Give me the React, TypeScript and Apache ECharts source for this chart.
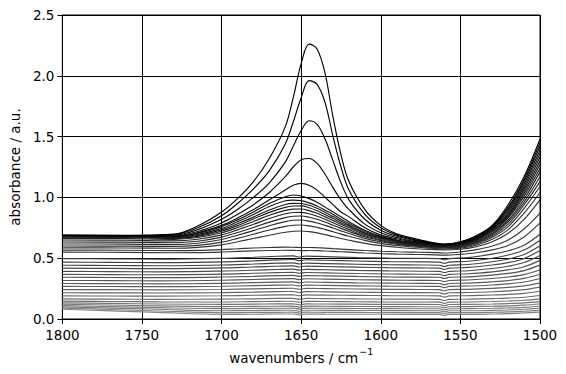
import React, { useEffect, useRef } from "react";
import * as echarts from "echarts";

// wavenumber sample positions (cm^-1)
const X_TOP = [1800, 1760, 1730, 1715, 1700, 1690, 1680, 1670, 1660, 1655, 1650, 1645, 1640, 1635, 1630, 1625, 1620, 1610, 1600, 1590, 1580, 1570, 1560, 1550, 1540, 1530, 1520, 1510, 1500];
const X_LOW = [1800, 1770, 1740, 1700, 1680, 1665, 1655, 1651, 1647, 1635, 1615, 1595, 1575, 1563, 1560, 1557, 1545, 1530, 1520, 1510, 1500];

// upper (dark) spectra, read at X_TOP
const T0 = [0.69, 0.688, 0.698, 0.765, 0.88, 0.99, 1.13, 1.32, 1.58, 1.82, 2.10, 2.26, 2.22, 2.02, 1.66, 1.35, 1.13, 0.90, 0.77, 0.70, 0.665, 0.635, 0.617, 0.635, 0.685, 0.77, 0.94, 1.17, 1.48];
const T1 = [0.689, 0.687, 0.694, 0.75, 0.85, 0.95, 1.07, 1.22, 1.44, 1.62, 1.82, 1.96, 1.93, 1.78, 1.50, 1.25, 1.06, 0.86, 0.75, 0.69, 0.655, 0.63, 0.614, 0.632, 0.68, 0.765, 0.92, 1.15, 1.45];
const T2 = [0.688, 0.686, 0.689, 0.735, 0.82, 0.9, 1.0, 1.12, 1.29, 1.42, 1.55, 1.63, 1.60, 1.48, 1.30, 1.12, 0.98, 0.82, 0.73, 0.68, 0.65, 0.625, 0.612, 0.628, 0.675, 0.76, 0.905, 1.13, 1.42];
const T3 = [0.687, 0.685, 0.684, 0.72, 0.79, 0.86, 0.94, 1.04, 1.17, 1.25, 1.31, 1.32, 1.28, 1.19, 1.08, 0.98, 0.9, 0.78, 0.71, 0.67, 0.64, 0.62, 0.61, 0.625, 0.67, 0.75, 0.89, 1.11, 1.39];
const T4 = [0.686, 0.684, 0.68, 0.71, 0.77, 0.83, 0.9, 0.98, 1.06, 1.10, 1.115, 1.10, 1.06, 1.0, 0.94, 0.88, 0.84, 0.75, 0.69, 0.66, 0.635, 0.617, 0.608, 0.622, 0.665, 0.745, 0.875, 1.09, 1.36];
const T5 = [0.684, 0.682, 0.677, 0.704, 0.76, 0.815, 0.88, 0.95, 1.005, 1.02, 1.012, 0.99, 0.96, 0.92, 0.88, 0.84, 0.8, 0.73, 0.68, 0.65, 0.63, 0.613, 0.605, 0.618, 0.66, 0.74, 0.86, 1.07, 1.33];
const T6 = [0.681, 0.679, 0.673, 0.695, 0.745, 0.8, 0.86, 0.925, 0.972, 0.978, 0.973, 0.955, 0.93, 0.895, 0.86, 0.82, 0.785, 0.72, 0.675, 0.645, 0.625, 0.61, 0.603, 0.615, 0.655, 0.735, 0.85, 1.05, 1.30];
const T7 = [0.677, 0.675, 0.668, 0.688, 0.733, 0.783, 0.838, 0.897, 0.942, 0.951, 0.95, 0.935, 0.91, 0.877, 0.842, 0.806, 0.772, 0.71, 0.67, 0.641, 0.621, 0.607, 0.6, 0.612, 0.65, 0.725, 0.84, 1.03, 1.27];
const T8 = [0.672, 0.67, 0.663, 0.68, 0.722, 0.768, 0.822, 0.877, 0.918, 0.929, 0.93, 0.915, 0.89, 0.86, 0.826, 0.792, 0.762, 0.703, 0.666, 0.638, 0.618, 0.605, 0.598, 0.608, 0.645, 0.715, 0.83, 1.01, 1.24];
const T9 = [0.663, 0.661, 0.655, 0.67, 0.709, 0.752, 0.802, 0.853, 0.893, 0.904, 0.905, 0.891, 0.869, 0.84, 0.81, 0.779, 0.75, 0.695, 0.66, 0.633, 0.614, 0.601, 0.595, 0.604, 0.639, 0.704, 0.812, 0.985, 1.21];
const T10 = [0.65, 0.648, 0.642, 0.656, 0.692, 0.733, 0.779, 0.826, 0.865, 0.876, 0.877, 0.865, 0.845, 0.82, 0.791, 0.762, 0.735, 0.685, 0.652, 0.628, 0.61, 0.598, 0.592, 0.6, 0.632, 0.694, 0.798, 0.962, 1.17];
const T11 = [0.633, 0.632, 0.627, 0.639, 0.673, 0.711, 0.753, 0.797, 0.834, 0.845, 0.847, 0.837, 0.82, 0.797, 0.771, 0.745, 0.72, 0.676, 0.645, 0.622, 0.605, 0.594, 0.588, 0.595, 0.625, 0.684, 0.78, 0.94, 1.13];
const T12 = [0.617, 0.616, 0.612, 0.623, 0.654, 0.689, 0.727, 0.767, 0.801, 0.812, 0.814, 0.805, 0.79, 0.77, 0.748, 0.725, 0.703, 0.663, 0.635, 0.615, 0.6, 0.59, 0.584, 0.59, 0.617, 0.672, 0.76, 0.91, 1.09];
const T13 = [0.6, 0.599, 0.596, 0.605, 0.632, 0.663, 0.697, 0.732, 0.762, 0.771, 0.773, 0.766, 0.754, 0.737, 0.718, 0.698, 0.68, 0.647, 0.622, 0.605, 0.592, 0.583, 0.578, 0.583, 0.607, 0.655, 0.735, 0.87, 1.04];
const T14 = [0.585, 0.584, 0.582, 0.589, 0.61, 0.635, 0.662, 0.689, 0.713, 0.722, 0.724, 0.718, 0.708, 0.694, 0.678, 0.662, 0.648, 0.622, 0.603, 0.59, 0.58, 0.573, 0.569, 0.574, 0.594, 0.636, 0.705, 0.82, 0.98];
const T15 = [0.567, 0.565, 0.562, 0.564, 0.571, 0.578, 0.584, 0.588, 0.591, 0.59, 0.588, 0.588, 0.586, 0.583, 0.579, 0.575, 0.571, 0.563, 0.557, 0.553, 0.55, 0.548, 0.543, 0.552, 0.57, 0.6, 0.65, 0.74, 0.87];
const T16 = [0.55, 0.548, 0.545, 0.546, 0.551, 0.556, 0.56, 0.563, 0.565, 0.564, 0.562, 0.563, 0.562, 0.559, 0.556, 0.553, 0.55, 0.543, 0.538, 0.534, 0.531, 0.529, 0.525, 0.532, 0.545, 0.568, 0.605, 0.675, 0.79];

// lower (grey) spectra, read at X_LOW
const L0 = [0.497, 0.495, 0.493, 0.499, 0.508, 0.516, 0.519, 0.51, 0.517, 0.513, 0.506, 0.501, 0.499, 0.497, 0.487, 0.497, 0.505, 0.533, 0.561, 0.607, 0.697];
const L1 = [0.468, 0.466, 0.464, 0.47, 0.478, 0.486, 0.489, 0.48, 0.487, 0.483, 0.477, 0.472, 0.47, 0.468, 0.458, 0.468, 0.475, 0.5, 0.526, 0.567, 0.648];
const L2 = [0.442, 0.44, 0.438, 0.444, 0.452, 0.459, 0.462, 0.453, 0.46, 0.456, 0.45, 0.446, 0.444, 0.442, 0.432, 0.442, 0.448, 0.471, 0.493, 0.53, 0.602];
const L3 = [0.418, 0.416, 0.414, 0.42, 0.428, 0.434, 0.437, 0.428, 0.435, 0.432, 0.426, 0.422, 0.42, 0.418, 0.408, 0.418, 0.424, 0.444, 0.464, 0.498, 0.563];
const L4 = [0.392, 0.39, 0.388, 0.394, 0.401, 0.407, 0.41, 0.402, 0.408, 0.405, 0.4, 0.396, 0.393, 0.392, 0.382, 0.392, 0.397, 0.415, 0.434, 0.464, 0.522];
const L5 = [0.367, 0.365, 0.364, 0.369, 0.376, 0.381, 0.384, 0.376, 0.382, 0.379, 0.374, 0.37, 0.368, 0.367, 0.357, 0.367, 0.372, 0.388, 0.404, 0.43, 0.482];
const L6 = [0.343, 0.341, 0.34, 0.345, 0.351, 0.357, 0.359, 0.351, 0.357, 0.355, 0.35, 0.346, 0.344, 0.343, 0.333, 0.343, 0.347, 0.361, 0.375, 0.398, 0.443];
const L7 = [0.317, 0.316, 0.314, 0.319, 0.325, 0.33, 0.332, 0.324, 0.331, 0.328, 0.323, 0.32, 0.318, 0.317, 0.307, 0.317, 0.321, 0.333, 0.345, 0.365, 0.405];
const L8 = [0.292, 0.291, 0.289, 0.293, 0.299, 0.303, 0.305, 0.297, 0.304, 0.301, 0.297, 0.295, 0.293, 0.292, 0.282, 0.292, 0.295, 0.306, 0.316, 0.334, 0.368];
const L9 = [0.268, 0.267, 0.266, 0.269, 0.274, 0.278, 0.28, 0.272, 0.279, 0.277, 0.273, 0.27, 0.269, 0.268, 0.258, 0.268, 0.271, 0.28, 0.289, 0.304, 0.333];
const L10 = [0.242, 0.241, 0.24, 0.243, 0.248, 0.251, 0.253, 0.245, 0.252, 0.25, 0.247, 0.244, 0.243, 0.242, 0.232, 0.242, 0.244, 0.252, 0.26, 0.272, 0.297];
const L11 = [0.216, 0.215, 0.214, 0.217, 0.221, 0.225, 0.226, 0.218, 0.225, 0.223, 0.22, 0.218, 0.217, 0.216, 0.206, 0.216, 0.218, 0.224, 0.231, 0.241, 0.262];
const L12 = [0.19, 0.189, 0.188, 0.191, 0.195, 0.198, 0.199, 0.191, 0.198, 0.196, 0.194, 0.192, 0.191, 0.19, 0.18, 0.19, 0.192, 0.197, 0.202, 0.211, 0.228];
const L13 = [0.165, 0.163, 0.162, 0.163, 0.166, 0.169, 0.17, 0.162, 0.169, 0.168, 0.165, 0.164, 0.163, 0.162, 0.152, 0.162, 0.163, 0.168, 0.172, 0.179, 0.193];
const L14 = [0.147, 0.144, 0.141, 0.14, 0.143, 0.145, 0.146, 0.138, 0.145, 0.144, 0.142, 0.14, 0.14, 0.139, 0.129, 0.139, 0.14, 0.144, 0.148, 0.154, 0.166];
const L15 = [0.133, 0.128, 0.123, 0.12, 0.122, 0.124, 0.125, 0.117, 0.124, 0.123, 0.122, 0.12, 0.12, 0.119, 0.109, 0.119, 0.12, 0.123, 0.127, 0.133, 0.143];
const L16 = [0.121, 0.115, 0.108, 0.102, 0.104, 0.105, 0.106, 0.098, 0.106, 0.105, 0.103, 0.102, 0.101, 0.101, 0.091, 0.101, 0.102, 0.105, 0.108, 0.114, 0.123];
const L17 = [0.11, 0.102, 0.093, 0.085, 0.087, 0.088, 0.089, 0.081, 0.089, 0.088, 0.086, 0.085, 0.084, 0.084, 0.074, 0.084, 0.085, 0.088, 0.091, 0.096, 0.105];
const L18 = [0.1, 0.09, 0.08, 0.068, 0.07, 0.071, 0.072, 0.064, 0.072, 0.071, 0.07, 0.069, 0.068, 0.068, 0.058, 0.068, 0.068, 0.071, 0.074, 0.08, 0.088];
const L19 = [0.09, 0.078, 0.066, 0.052, 0.054, 0.055, 0.056, 0.048, 0.056, 0.055, 0.054, 0.053, 0.052, 0.052, 0.042, 0.052, 0.052, 0.055, 0.058, 0.064, 0.071];
const L20 = [0.08, 0.067, 0.054, 0.038, 0.039, 0.041, 0.041, 0.033, 0.041, 0.04, 0.039, 0.039, 0.038, 0.038, 0.028, 0.038, 0.038, 0.041, 0.044, 0.05, 0.057];

const TOP = [T0, T1, T2, T3, T4, T5, T6, T7, T8, T9, T10, T11, T12, T13, T14, T15, T16];
const LOW = [L0, L1, L2, L3, L4, L5, L6, L7, L8, L9, L10, L11, L12, L13, L14, L15, L16, L17, L18, L19, L20];

const Y_TICKS = [0, 0.5, 1.0, 1.5, 2.0, 2.5];
const X_TICKS = [1500, 1550, 1600, 1650, 1700, 1750, 1800];

const FONT = "DejaVu Sans";
const FS = 13.5;

export default function App() {
  const ref = useRef<HTMLDivElement>(null);
  useEffect(() => {
    if (!ref.current) return;
    const chart = echarts.init(ref.current, null, { renderer: "svg" });
    const curves: { xs: number[]; ys: number[] }[] = [
      ...TOP.map((ys) => ({ xs: X_TOP, ys })),
      ...LOW.map((ys) => ({ xs: X_LOW, ys })),
    ];
    const n = curves.length;
    const series = curves
      .map((c, i) => {
        const g = Math.round((i / (n - 1)) * 0.52 * 255);
        const col = `rgb(${g},${g},${g})`;
        return {
          type: "line",
          data: c.xs.map((x, k) => [x, c.ys[k]]),
          showSymbol: false,
          smooth: 0.35,
          silent: true,
          z: 3,
          lineStyle: { color: col, width: 1.15 },
        };
      })
      .reverse();
    chart.setOption({
      animation: false,
      backgroundColor: "#fff",
      textStyle: { fontFamily: FONT },
      grid: {
        left: 61,
        right: 26,
        top: 15,
        bottom: 55,
        show: true,
        borderColor: "#000",
        borderWidth: 1,
        backgroundColor: "transparent",
      },
      xAxis: {
        type: "value",
        min: X_TICKS[0],
        max: X_TICKS[X_TICKS.length - 1],
        interval: 50,
        inverse: true,
        name: "{a|wavenumbers / cm}{s|−1}",
        nameLocation: "middle",
        nameGap: 27,
        nameTextStyle: {
          rich: {
            a: { fontFamily: FONT, fontSize: FS, color: "#000", lineHeight: 18, verticalAlign: "bottom" },
            s: { fontFamily: FONT, fontSize: 9.5, color: "#000", lineHeight: 18, verticalAlign: "top", padding: [0, 0, 7, 1] },
          },
        },
        axisLine: { show: true, lineStyle: { color: "#000", width: 1 } },
        axisTick: { show: true, inside: false, length: 5, lineStyle: { color: "#000", width: 1 } },
        axisLabel: {
          color: "#000",
          fontSize: FS,
          fontFamily: FONT,
          margin: 9,
          formatter: (v: number) => String(v),
        },
        splitLine: { show: true, lineStyle: { color: "#000", width: 1 } },
      },
      yAxis: {
        type: "value",
        min: Y_TICKS[0],
        max: Y_TICKS[Y_TICKS.length - 1],
        interval: 0.5,
        name: "absorbance / a.u.",
        nameLocation: "middle",
        nameGap: 36,
        nameTextStyle: { color: "#000", fontSize: FS, fontFamily: FONT },
        axisLine: { show: true, lineStyle: { color: "#000", width: 1 } },
        axisTick: { show: true, inside: false, length: 5, lineStyle: { color: "#000", width: 1 } },
        axisLabel: {
          color: "#000",
          fontSize: FS,
          fontFamily: FONT,
          margin: 8,
          formatter: (v: number) => v.toFixed(1),
        },
        splitLine: { show: true, lineStyle: { color: "#000", width: 1 } },
      },
      series,
    });
    return () => chart.dispose();
  }, []);
  return (
    <div
      ref={ref}
      style={{ position: "absolute", left: 0, top: 0, width: 566, height: 374 }}
    />
  );
}
